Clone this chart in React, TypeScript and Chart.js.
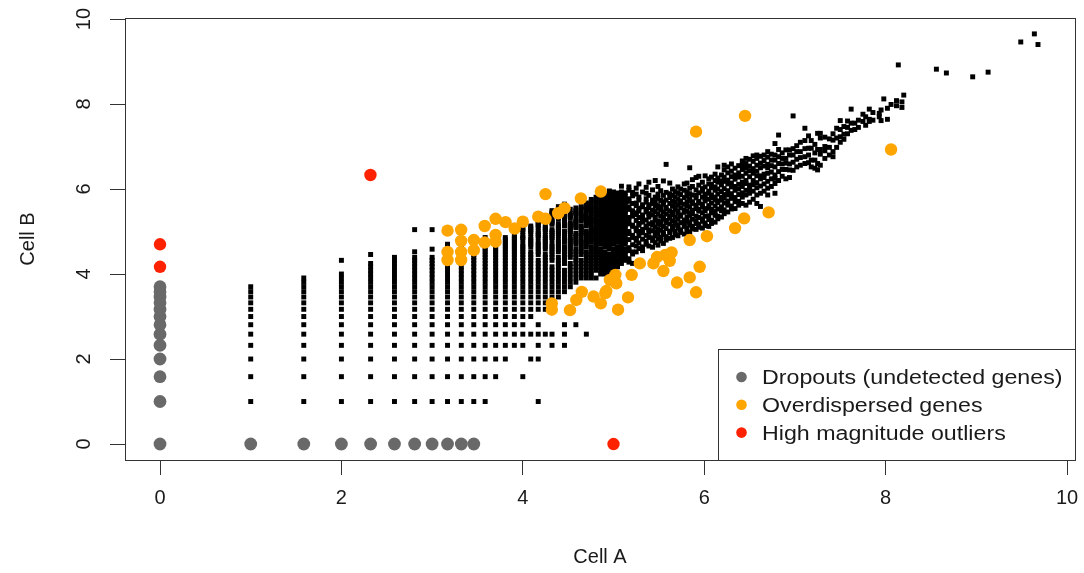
import React, { useEffect, useRef } from 'react';
import { Chart, registerables } from 'chart.js';

Chart.register(...registerables);

// ---------- axes ----------
const xTickValues = [0, 2, 4, 6, 8, 10];
const yTickValues = [0, 2, 4, 6, 8, 10];
const xTitle = 'Cell A';
const yTitle = 'Cell B';

// ---------- legend ----------
const legendLabels = ['Dropouts (undetected genes)', 'Overdispersed genes', 'High magnitude outliers'];

// ---------- black points: discrete count levels (axis value = log2(level)) ----------
const ladderXLevels = [2, 3, 4, 5, 6, 7, 8, 9, 10, 11, 12, 13, 14, 15, 16, 17, 18, 19, 20, 21, 22, 23, 24, 25, 26, 27, 28, 29, 30, 31, 32, 33, 34, 35];
const ladderYLevels: number[][] = [
  [2, 3, 4, 5, 6, 7, 8, 9, 10, 11, 12, 13],
  [2, 3, 4, 5, 6, 7, 8, 9, 10, 11, 12, 13, 14, 15],
  [2, 3, 4, 5, 6, 7, 8, 9, 10, 11, 12, 13, 14, 15, 16, 20],
  [2, 3, 4, 5, 6, 7, 8, 9, 10, 11, 12, 13, 14, 15, 16, 17, 18, 19, 22],
  [2, 3, 4, 5, 6, 7, 8, 9, 10, 11, 12, 13, 14, 15, 16, 17, 18, 19, 20, 21],
  [2, 3, 4, 5, 6, 7, 8, 9, 10, 11, 12, 13, 14, 15, 16, 17, 18, 19, 20, 21, 23, 33],
  [2, 3, 4, 5, 6, 7, 8, 9, 10, 11, 12, 13, 14, 15, 16, 17, 18, 19, 20, 21, 24, 33],
  [2, 3, 4, 5, 6, 7, 8, 9, 10, 11, 12, 13, 14, 15, 16, 17, 18, 19, 20, 21, 22, 23, 24, 25, 26],
  [2, 3, 4, 5, 6, 7, 8, 9, 10, 11, 12, 13, 14, 15, 16, 17, 18, 19, 20, 21, 22, 23, 24, 25, 26, 27, 28],
  [2, 3, 4, 5, 6, 7, 8, 9, 10, 11, 12, 13, 14, 15, 16, 17, 18, 19, 20, 21, 22, 23, 24, 25, 26, 27, 28],
  [2, 3, 4, 5, 6, 7, 8, 9, 10, 11, 12, 13, 14, 15, 16, 17, 18, 19, 20, 21, 22, 23, 24, 25, 26, 27, 28, 29],
  [3, 4, 5, 6, 7, 8, 9, 10, 11, 12, 13, 14, 15, 16, 17, 18, 19, 20, 21, 22, 23, 24, 25, 26, 27, 28, 29],
  [4, 5, 6, 7, 8, 9, 10, 11, 12, 13, 14, 15, 16, 17, 18, 19, 20, 21, 22, 23, 24, 25, 26, 27, 28, 29],
  [5, 6, 7, 8, 9, 10, 11, 12, 13, 14, 15, 16, 17, 18, 19, 20, 21, 22, 23, 24, 25, 26, 27, 28, 29, 30],
  [3, 5, 6, 7, 8, 9, 10, 11, 12, 13, 14, 15, 16, 17, 18, 19, 20, 21, 22, 23, 24, 25, 26, 28, 29, 30, 32, 33, 34],
  [4, 6, 8, 9, 10, 11, 12, 13, 14, 15, 16, 17, 18, 19, 20, 21, 22, 23, 25, 26, 27, 28, 29, 31, 32, 33, 34, 35],
  [2, 4, 5, 6, 7, 9, 10, 11, 12, 13, 14, 15, 16, 17, 18, 19, 20, 22, 23, 24, 25, 26, 27, 29, 30, 31, 32, 34, 35, 36, 37, 38],
  [6, 9, 10, 11, 12, 13, 14, 15, 16, 17, 18, 19, 20, 21, 22, 24, 25, 26, 27, 28, 29, 30, 32, 33, 34, 35, 38, 39, 40],
  [5, 6, 10, 11, 12, 13, 14, 15, 16, 17, 18, 20, 21, 22, 23, 24, 25, 26, 28, 29, 30, 31, 32, 33, 36, 37, 38, 39, 42, 43, 44, 45],
  [11, 12, 13, 14, 15, 16, 17, 18, 19, 20, 21, 23, 24, 25, 26, 27, 28, 30, 31, 32, 33, 34, 35, 36, 39, 40, 41, 42, 45, 46, 47, 48],
  [5, 6, 7, 12, 13, 14, 15, 16, 17, 19, 20, 21, 22, 23, 24, 25, 27, 28, 29, 30, 31, 32, 35, 36, 37, 38, 39, 40, 43, 44, 45, 46, 47, 49, 50],
  [13, 14, 15, 16, 17, 18, 19, 21, 22, 23, 24, 25, 26, 27, 28, 29, 31, 32, 33, 34, 35, 36, 37, 40, 41, 42, 43, 46],
  [7, 14, 15, 16, 17, 18, 19, 20, 21, 22, 23, 24, 26, 27, 28, 29, 30, 31, 34, 35, 36, 37, 38, 39, 42, 43, 44, 45, 47],
  [15, 16, 17, 18, 19, 20, 22, 23, 24, 25, 26, 27, 28, 30, 31, 32, 33, 34, 35, 38, 39, 40, 41, 42, 43, 46, 47, 48],
  [6, 15, 16, 17, 18, 19, 20, 21, 22, 23, 25, 26, 27, 28, 29, 30, 31, 32, 35, 36, 37, 38, 39, 40, 41, 44, 45, 46, 47, 48, 50, 51],
  [15, 16, 17, 18, 19, 20, 21, 22, 23, 24, 25, 27, 28, 29, 30, 31, 32, 33, 34, 36, 38, 39, 41, 43, 45, 47, 49, 52, 54],
  [15, 17, 18, 19, 20, 21, 22, 23, 24, 25, 26, 27, 28, 29, 31, 32, 33, 34, 36, 37, 39, 40, 42, 44, 46, 48, 51, 53, 56],
  [16, 17, 18, 19, 20, 21, 22, 23, 24, 26, 27, 28, 29, 30, 31, 32, 34, 35, 37, 38, 40, 42, 43, 45, 47, 50, 52, 55, 57],
  [16, 17, 18, 19, 20, 21, 22, 23, 25, 26, 27, 28, 29, 30, 31, 33, 34, 35, 36, 38, 40, 41, 43, 45, 47, 49, 52, 54, 58],
  [16, 17, 18, 19, 20, 21, 22, 24, 25, 26, 27, 28, 30, 31, 32, 33, 35, 36, 38, 39, 41, 43, 44, 46, 48, 51, 53, 56, 59, 62],
  [17, 18, 19, 20, 21, 22, 23, 24, 26, 27, 28, 29, 30, 32, 33, 34, 36, 37, 39, 41, 42, 44, 46, 48, 50, 53, 55, 58, 61],
  [18, 19, 20, 21, 22, 23, 24, 25, 27, 28, 29, 31, 32, 33, 35, 36, 38, 40, 41, 43, 45, 47, 49, 51, 54, 57, 60],
  [19, 20, 21, 22, 23, 24, 25, 26, 28, 29, 30, 32, 33, 35, 36, 38, 39, 41, 43, 44, 46, 48, 50, 53, 55, 58, 61, 67],
  [20, 21, 22, 23, 24, 26, 27, 28, 29, 31, 32, 34, 35, 37, 38, 40, 42, 44, 45, 47, 49, 52, 54, 57, 60],
];

// ---------- black points: upper cloud (x value, y values) ----------
const cloudX = [5.17, 5.21, 5.25, 5.28, 5.32, 5.36, 5.39, 5.43, 5.46, 5.49, 5.52, 5.55, 5.58, 5.62, 5.65, 5.68, 5.71, 5.74, 5.78, 5.81, 5.84, 5.87, 5.91, 5.94, 5.98, 6.01, 6.05, 6.08, 6.12, 6.15, 6.19, 6.22, 6.26, 6.30, 6.34, 6.38, 6.42, 6.46, 6.50, 6.54, 6.58, 6.62, 6.66, 6.70, 6.74, 6.78, 6.82, 6.86, 6.90, 6.94, 6.98, 7.02, 7.06, 7.11, 7.15, 7.18, 7.22, 7.25, 7.28, 7.33, 7.38, 7.42, 7.46, 7.50, 7.54, 7.58, 7.62, 7.66, 7.70, 7.75, 7.78, 7.82, 7.86, 7.93, 7.95, 7.98, 8.02, 8.06, 8.12, 8.14, 8.18, 8.20, 8.56, 8.67, 8.96, 9.13, 9.49, 9.64, 9.68];
const cloudY: number[][] = [
  [4.28, 4.36, 4.55, 4.62, 4.81, 4.95, 5.00, 5.18, 5.24, 5.33, 5.52, 5.58, 5.71, 5.77, 5.97, 6.05],
  [4.25, 4.47, 4.52, 4.69, 4.86, 4.91, 5.12, 5.15, 5.36, 5.45, 5.49, 5.66, 5.84, 5.92],
  [4.52, 4.66, 4.79, 4.84, 5.02, 5.08, 5.26, 5.40, 5.44, 5.61, 5.67, 5.88, 6.02],
  [4.60, 4.73, 4.90, 5.00, 5.15, 5.19, 5.33, 5.48, 5.55, 5.74, 5.81, 6.12],
  [4.55, 4.64, 4.82, 4.97, 5.05, 5.22, 5.30, 5.39, 5.58, 5.63, 5.93],
  [4.70, 4.77, 4.91, 5.09, 5.13, 5.27, 5.46, 5.52, 5.69, 5.77, 5.90, 6.04],
  [4.66, 4.86, 4.98, 5.04, 5.18, 5.34, 5.42, 5.56, 5.63, 5.85, 6.16],
  [4.63, 4.79, 4.85, 5.02, 5.15, 5.21, 5.39, 5.50, 5.66, 5.74, 5.98],
  [4.74, 4.90, 4.99, 5.11, 5.27, 5.33, 5.47, 5.60, 5.70, 5.81, 6.20],
  [4.68, 4.83, 4.95, 5.06, 5.19, 5.24, 5.41, 5.55, 5.61, 5.78, 5.88, 6.06],
  [4.78, 4.86, 5.03, 5.16, 5.23, 5.36, 5.51, 5.58, 5.73, 5.96],
  [4.72, 4.93, 4.98, 5.12, 5.29, 5.34, 5.46, 5.64, 5.70, 5.85, 6.19],
  [4.80, 4.88, 5.07, 5.20, 5.26, 5.41, 5.53, 5.57, 5.74, 5.92, 6.58],
  [4.84, 4.97, 5.01, 5.18, 5.31, 5.37, 5.49, 5.66, 5.80, 5.89, 6.14],
  [4.86, 5.05, 5.12, 5.25, 5.40, 5.45, 5.60, 5.71, 5.85, 6.00],
  [4.93, 5.00, 5.17, 5.22, 5.34, 5.52, 5.58, 5.69, 5.81, 5.94],
  [4.90, 5.08, 5.14, 5.30, 5.43, 5.47, 5.63, 5.76, 5.90, 6.05],
  [4.98, 5.04, 5.21, 5.36, 5.39, 5.56, 5.68, 5.72, 5.87, 6.00],
  [4.94, 5.12, 5.18, 5.27, 5.45, 5.51, 5.64, 5.80, 5.97, 6.12],
  [5.00, 5.08, 5.24, 5.33, 5.48, 5.61, 5.69, 5.84, 5.93, 6.14],
  [4.98, 5.15, 5.21, 5.38, 5.44, 5.58, 5.73, 5.77, 5.89, 6.02, 6.50],
  [5.06, 5.12, 5.29, 5.42, 5.50, 5.66, 5.70, 5.86, 6.06, 6.22],
  [5.05, 5.19, 5.25, 5.36, 5.54, 5.62, 5.79, 5.85, 5.98, 6.27],
  [5.10, 5.17, 5.33, 5.48, 5.52, 5.67, 5.71, 5.91, 6.09, 6.30],
  [5.08, 5.24, 5.30, 5.44, 5.58, 5.64, 5.81, 5.95, 6.01, 6.16],
  [5.14, 5.20, 5.36, 5.49, 5.54, 5.72, 5.78, 5.88, 6.05, 6.31],
  [5.12, 5.28, 5.37, 5.55, 5.61, 5.76, 5.90, 5.95, 6.12, 6.24],
  [5.19, 5.26, 5.44, 5.52, 5.67, 5.80, 5.86, 6.03, 6.11, 6.28],
  [5.22, 5.38, 5.47, 5.60, 5.74, 5.81, 5.97, 6.05, 6.20, 6.35],
  [5.30, 5.36, 5.53, 5.68, 5.72, 5.88, 6.00, 6.16, 6.26, 6.52],
  [5.34, 5.49, 5.58, 5.74, 5.80, 5.94, 6.10, 6.19, 6.33],
  [5.42, 5.51, 5.67, 5.79, 5.87, 6.01, 6.18, 6.28, 6.45, 6.56],
  [5.46, 5.62, 5.72, 5.86, 5.96, 6.12, 6.21, 6.38, 6.52],
  [5.53, 5.60, 5.78, 5.89, 6.05, 6.14, 6.29, 6.42, 6.59],
  [5.54, 5.70, 5.80, 5.97, 6.06, 6.23, 6.33, 6.49],
  [5.62, 5.71, 5.87, 6.00, 6.11, 6.28, 6.38, 6.55],
  [5.66, 5.81, 5.91, 6.06, 6.16, 6.30, 6.46, 6.57, 6.66],
  [5.62, 5.86, 5.97, 6.13, 6.20, 6.37, 6.49, 6.60, 6.72],
  [5.69, 5.90, 6.01, 6.09, 6.29, 6.43, 6.54, 6.70],
  [5.76, 5.95, 6.10, 6.20, 6.37, 6.48, 6.65, 6.78],
  [5.66, 5.86, 6.03, 6.15, 6.31, 6.42, 6.56, 6.72, 6.80],
  [5.59, 5.90, 6.07, 6.24, 6.31, 6.50, 6.61, 6.77],
  [5.95, 6.12, 6.27, 6.35, 6.54, 6.67, 6.80],
  [5.86, 6.02, 6.18, 6.37, 6.50, 6.58, 6.75, 6.88],
  [6.06, 6.24, 6.40, 6.55, 6.68, 6.82],
  [5.90, 6.13, 6.25, 6.33, 6.52, 6.68, 6.80, 7.07],
  [6.20, 6.41, 6.60, 6.76, 6.93, 7.27],
  [6.30, 6.46, 6.59, 6.72, 6.85],
  [6.24, 6.46, 6.61, 6.72, 6.92],
  [6.27, 6.45, 6.59, 6.80, 6.92],
  [6.44, 6.63, 6.80, 6.95, 7.72],
  [6.52, 6.70, 6.88, 7.02],
  [6.56, 6.74, 6.88, 7.10],
  [6.60, 6.76, 6.95, 7.14, 7.43],
  [6.62, 6.80, 6.96, 7.25],
  [6.52, 6.68, 6.96, 7.14],
  [6.49, 6.68, 6.85, 7.05],
  [6.45, 6.60, 6.93, 7.31],
  [6.56, 6.82, 6.93, 7.20, 7.31],
  [6.72, 6.90, 7.00, 7.22],
  [6.80, 6.98, 7.18],
  [6.76, 6.88, 7.15, 7.30],
  [6.98, 7.20, 7.43],
  [7.10, 7.23, 7.40, 7.61],
  [7.17, 7.29, 7.47],
  [7.30, 7.45, 7.60],
  [7.38, 7.55, 7.88],
  [7.40, 7.55],
  [7.45, 7.62],
  [7.59, 7.76],
  [7.50, 7.70],
  [7.59, 7.64, 7.88],
  [7.62, 7.80],
  [7.70, 7.78],
  [7.61, 7.86],
  [8.12],
  [7.64, 7.90],
  [7.99],
  [8.08, 7.96],
  [8.92],
  [7.92, 8.05],
  [8.21],
  [8.82],
  [8.73],
  [8.64],
  [8.75],
  [9.46],
  [9.65],
  [9.40],
];

// ---------- dropouts (grey): count levels on the zero lines ----------
const dropoutYLevelsAtXZero = [1, 2, 3, 4, 5, 6, 7, 8, 9, 10, 11, 12, 13];
const dropoutXLevelsAtYZero = [2, 3, 4, 5, 6, 7, 8, 9, 10, 11];

// ---------- overdispersed genes (orange) ----------
const overX = [3.17, 3.17, 3.17, 3.32, 3.32, 3.32, 3.32, 3.46, 3.46, 3.58, 3.58, 3.70, 3.70, 3.70, 3.81, 3.91, 4.00, 4.17, 4.25, 4.25, 4.39, 4.46, 4.64, 4.86, 5.91, 6.45, 8.06, 6.71, 6.44, 6.34, 6.03, 5.84, 5.95, 5.84, 5.70, 5.91, 5.55, 5.62, 5.64, 5.57, 5.48, 5.44, 5.29, 5.20, 5.16, 5.05, 5.02, 4.96, 5.03, 4.92, 4.86, 4.78, 4.65, 4.59, 4.52, 4.32, 4.32, 4.91];
const overY = [5.02, 4.52, 4.33, 5.04, 4.78, 4.52, 4.33, 4.80, 4.56, 5.13, 4.74, 5.30, 4.92, 4.76, 5.22, 5.07, 5.23, 5.35, 5.30, 5.88, 5.43, 5.55, 5.78, 5.94, 7.35, 7.72, 6.93, 5.45, 5.31, 5.08, 4.89, 4.80, 4.17, 3.92, 3.80, 3.57, 4.07, 4.31, 4.51, 4.45, 4.40, 4.25, 4.25, 3.98, 3.45, 3.16, 3.98, 3.86, 3.78, 3.60, 3.31, 3.47, 3.58, 3.39, 3.15, 3.31, 3.16, 3.55];

// ---------- high magnitude outliers (red) ----------
const outlierX = [0, 0, 2.32, 5.0];
const outlierY = [4.70, 4.17, 6.33, 0];

const FONT = '"Liberation Sans", Arial, Helvetica, sans-serif';
const COLORS = {
  black: '#000000',
  grey: '#696969',
  orange: '#ffa500',
  red: '#ff2200',
  axis: '#333333',
  text: '#1a1a1a',
};

const framePlugin = {
  id: 'rframe',
  afterDatasetsDraw(chart: any) {
    const { ctx, chartArea: a } = chart;
    ctx.save();
    ctx.strokeStyle = COLORS.axis;
    ctx.lineWidth = 1;
    const L = Math.round(a.left) + 0.5;
    const T = Math.round(a.top) + 0.5;
    const R = Math.round(a.right) + 0.5;
    const B = Math.round(a.bottom) + 0.5;
    ctx.strokeRect(L, T, R - L, B - T);

    // legend box (bottom-right, inside plot)
    const boxW = 357;
    const boxH = 111;
    const bx = R - boxW;
    const by = B - boxH;
    ctx.fillStyle = '#ffffff';
    ctx.fillRect(bx, by, boxW, boxH);
    ctx.strokeRect(bx, by, boxW, boxH);

    const ds = chart.data.datasets;
    legendLabels.forEach((lab: string, i: number) => {
      const d = ds.find((x: any) => x.label === lab);
      const cy = by + 27.5 + i * 27.8;
      ctx.beginPath();
      ctx.fillStyle = d ? d.backgroundColor : '#000';
      ctx.arc(bx + 23, cy, 5.3, 0, Math.PI * 2);
      ctx.fill();
      ctx.save();
      ctx.translate(bx + 43.5, cy + 7.2);
      ctx.scale(1.16, 1);
      ctx.fillStyle = COLORS.text;
      ctx.font = `20px ${FONT}`;
      ctx.textBaseline = 'alphabetic';
      ctx.textAlign = 'left';
      ctx.fillText(lab, 0, 0);
      ctx.restore();
    });
    ctx.restore();
  },
};

export default function App() {
  const ref = useRef<HTMLCanvasElement | null>(null);

  useEffect(() => {
    if (!ref.current) return;
    const lg = Math.log2;

    const blackPts: { x: number; y: number }[] = [];
    ladderXLevels.forEach((k, i) => {
      ladderYLevels[i].forEach((j) => blackPts.push({ x: lg(k), y: lg(j) }));
    });
    cloudX.forEach((x, i) => {
      cloudY[i].forEach((y) => blackPts.push({ x, y }));
    });

    const greyPts = [
      ...dropoutYLevelsAtXZero.map((j) => ({ x: 0, y: lg(j) })),
      ...dropoutXLevelsAtYZero.map((k) => ({ x: lg(k), y: 0 })),
    ];
    const orangePts = overX.map((x, i) => ({ x, y: overY[i] }));
    const redPts = outlierX.map((x, i) => ({ x, y: outlierY[i] }));

    const tickFont = { family: FONT, size: 20 };

    const chart = new Chart(ref.current, {
      type: 'scatter',
      data: {
        datasets: [
          { label: 'High magnitude outliers', data: redPts, backgroundColor: COLORS.red, borderWidth: 0, pointRadius: 6.2, order: 1 },
          { label: 'Overdispersed genes', data: orangePts, backgroundColor: COLORS.orange, borderWidth: 0, pointRadius: 6.2, order: 2 },
          { label: 'Dropouts (undetected genes)', data: greyPts, backgroundColor: COLORS.grey, borderWidth: 0, pointRadius: 6.4, order: 3 },
          { label: 'genes', data: blackPts, backgroundColor: COLORS.black, borderWidth: 0, pointRadius: 3.5, pointStyle: 'rect', order: 4 },
        ],
      } as any,
      options: {
        animation: false,
        responsive: false,
        events: [],
        layout: { padding: { top: 18, right: 9, left: 0, bottom: 0 } },
        plugins: { legend: { display: false }, tooltip: { enabled: false } },
        scales: {
          x: {
            type: 'linear',
            min: -0.386,
            max: 10.088,
            afterBuildTicks: (s: any) => {
              s.ticks = xTickValues.map((v) => ({ value: v }));
            },
            afterFit: (s: any) => {
              s.height = 113;
              s.paddingLeft = 0;
              s.paddingRight = 0;
            },
            border: { display: false },
            grid: { drawOnChartArea: false, drawTicks: true, tickLength: 15, color: COLORS.axis, lineWidth: 1 },
            ticks: { font: tickFont, color: COLORS.text, padding: 11, maxRotation: 0, minRotation: 0, autoSkip: false, callback: (v: any) => String(v) },
            title: { display: true, text: xTitle, font: tickFont, color: COLORS.text, padding: { top: 0, bottom: 4 } },
          },
          y: {
            type: 'linear',
            min: -0.376,
            max: 10.024,
            afterBuildTicks: (s: any) => {
              s.ticks = yTickValues.map((v) => ({ value: v }));
            },
            afterFit: (s: any) => {
              s.width = 125;
              s.paddingTop = 0;
              s.paddingBottom = 0;
            },
            border: { display: false },
            grid: { drawOnChartArea: false, drawTicks: true, tickLength: 15, color: COLORS.axis, lineWidth: 1 },
            ticks: { font: tickFont, color: COLORS.text, padding: 14, minRotation: 90, maxRotation: 90, crossAlign: 'center', autoSkip: false, callback: (v: any) => String(v) },
            title: { display: true, text: yTitle, font: tickFont, color: COLORS.text, padding: { top: 16, bottom: 0 } },
          },
        },
      } as any,
      plugins: [framePlugin],
    });
    return () => chart.destroy();
  }, []);

  return (
    <div style={{ position: 'fixed', left: 0, top: 0, width: 1084, height: 573, background: '#fff' }}>
      <canvas ref={ref} width={1084} height={573} style={{ display: 'block', width: 1084, height: 573 }} />
    </div>
  );
}
